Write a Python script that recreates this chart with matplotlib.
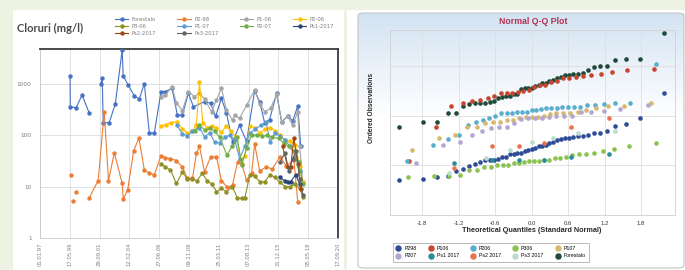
import numpy as np
import matplotlib
matplotlib.use("Agg")
import matplotlib.pyplot as plt
from matplotlib.patches import Rectangle, FancyBboxPatch
from matplotlib.lines import Line2D
from matplotlib.ticker import FuncFormatter, NullLocator
from statistics import NormalDist

nan = np.nan

# chloride time series (decimal year, mg/l)
forestalo_t = [1999.39, 1999.41, 1999.87, 2000.35, 2000.91, 2001.3, 2001.87, 2001.95, 2002.03, 2002.51,
               2002.99, 2003.54, 2003.62, 2004.02, 2004.50, 2004.90, 2005.30, 2005.70, 2006.10, 2006.63,
               2006.98, 2007.51, 2007.93, 2008.33, 2008.81, 2009.21, 2010.09, 2010.57, 2010.97, 2011.44,
               2011.84, 2012.32, 2012.88, 2013.44, 2014.08, 2014.48, 2014.88, 2015.27, 2015.83, 2016.23,
               2016.71, 2017.11, 2017.51, 2017.75]
forestalo_v = [1400, 355, 340, 600, 270, nan, 1000, 1290, 175, 175,
               400, 4500, 1400, 940, 580, 500, 1000, 110, 110, 700,
               700, 810, 245, 245, 650, 355, 445, 415, 230, 515,
               265, 74, 155, 75, 730, 445, 170, 200, 650, 180,
               235, 190, 365, 60]

p298_t = [1999.45, 1999.5, 1999.6, 1999.7, 1999.87, 2000.4, 2000.91, 2001.63, 2002.11, 2002.45,
          2002.91, 2003.54, 2003.62, 2003.98, 2004.45, 2004.87, 2005.30, 2005.70, 2006.10, 2006.63,
          2006.98, 2007.38, 2007.85, 2008.33, 2008.73, 2009.13, 2009.45, 2009.69, 2010.09, 2010.57,
          2011.04, 2011.44, 2011.92, 2012.32, 2012.72, 2013.04, 2013.44, 2013.84, 2014.08, 2014.48,
          2015.0, 2015.5, 2016.1, 2016.6, 2017.2, 2017.51]
p298_v = [17, nan, 5.2, nan, 7.8, nan, 6, 13, 285, 13,
          45, 11.6, 5.7, 8.6, 49, 88, 21, 18, 17, 40,
          36, 35, 32, 24, 14.4, 14.4, 44, 61, 19.4, 37,
          38, 13, 9.6, 10.7, 30, 28, 13.3, 18, 67, 20,
          24, 22, 38, 25, 33, 5.1]

p106_t = [2006.63, 2006.98, 2007.51, 2007.85, 2008.33, 2008.81, 2009.29, 2009.69, 2010.09, 2010.65,
          2011.04, 2011.44, 2011.84, 2012.32, 2012.48, 2012.88, 2013.44, 2014.08, 2014.48, 2014.88,
          2015.35, 2015.83, 2016.23, 2016.71, 2017.11, 2017.51, 2017.67, 2017.91]
p106_v = [560, 600, 870, 420, 300, 700, 560, 650, 500, 285,
          480, 810, 305, 195, 245, 210, 380, 750, 410, 285,
          330, 620, 180, 230, 155, 285, 60, 12]

p206_t = [2006.63, 2007.03, 2007.43, 2007.91, 2008.33, 2008.73, 2009.13, 2009.45, 2009.69, 2009.95,
          2010.29, 2010.65, 2011.04, 2011.44, 2011.84, 2012.2, 2012.6, 2013.0, 2013.3, 2013.7,
          2014.08, 2014.48, 2014.9, 2015.3, 2015.7, 2016.1, 2016.5, 2016.9, 2017.3, 2017.67, 2017.91]
p206_v = [150, 160, 175, 180, 130, 110, 120, 160, 1080, 170,
          140, 150, 135, 115, 150, 120, 90, 33, 40, 150,
          140, 110, 130, 140, 120, 100, 80, 75, 65, 25, 12]

p306_t = [2006.63, 2006.98, 2007.38, 2007.85, 2008.33, 2008.73, 2009.13, 2009.5, 2009.9, 2010.3,
          2010.7, 2011.04, 2011.44, 2011.84, 2012.3, 2012.7, 2013.04, 2013.3, 2013.7, 2014.08,
          2014.5, 2014.88, 2015.3, 2015.7, 2016.1, 2016.5, 2016.9, 2017.3, 2017.67, 2017.91]
p306_v = [28, 24, 21, 11.5, 19, 14, 14, 13, 18, 13,
          11, 8, 9.2, 7.9, 10, 6, 5.9, 6, 17, 16,
          12.4, 12.4, 17, 15, 12, 10, 10, 11, 9.2, 6.4]

p107_t = [2007.91, 2008.3, 2008.73, 2009.13, 2009.69, 2010.09, 2010.5, 2010.9, 2011.3, 2011.7,
          2012.1, 2012.5, 2012.88, 2013.3, 2013.7, 2014.1, 2014.6, 2015.0, 2015.3, 2015.7,
          2016.1, 2016.5, 2016.9, 2017.3, 2017.67]
p107_v = [155, 107, 95, 120, 140, 93, 110, 74, 70, 90,
          100, 80, 35, 60, 110, 130, 155, 180, 74, 110,
          95, 80, 60, 40, 20]

p207_t = [2009.3, 2009.69, 2010.09, 2010.5, 2010.9, 2011.3, 2011.87, 2012.3, 2012.7, 2013.04,
          2013.44, 2013.84, 2014.3, 2014.7, 2015.1, 2015.5, 2016.0, 2016.4, 2016.8, 2017.2,
          2017.6, 2017.9]
p207_v = [120, 160, 125, 135, 120, 90, 41, 60, 90, 26,
          55, 100, 100, 95, 100, 90, 87, 70, 60, 48,
          30, 11]

ps1_t = [2016.07, 2016.47, 2016.71, 2016.95, 2017.35, 2017.67]
ps1_v = [15, 13, 12.5, 12.5, 17, 11]
ps2_t = [2016.3, 2016.71, 2016.95, 2017.2, 2017.51, 2017.75]
ps2_v = [60, 24, 24, 88, 28, 9]
ps3_t = [2016.1, 2016.5, 2016.8, 2017.1, 2017.4, 2017.67, 2017.91]
ps3_v = [30, 45, 20, 35, 48, 14, 7]

# x axis labels (dates) of the time chart
x_tick_labels = ["01.01.97", "17.05.99", "29.09.01", "12.02.04", "27.06.06", "09.11.08",
                 "25.03.11", "07.08.13", "21.12.15", "05.05.18", "17.09.20"]
y_ticks = [1, 10, 100, 1000]
qq_xticks = [-1.8, -1.2, -0.6, 0.0, 0.6, 1.2, 1.8]

# (time-chart label, q-q label, t, v, line colour, q-q colour)
series = [
    ("Forestalo", "Forestalo", forestalo_t, forestalo_v, "#4472C4", "#1f4a3a"),
    ("P2-98", "P298", p298_t, p298_v, "#ED7D31", "#2f4c98"),
    ("P1-06", "P106", p106_t, p106_v, "#A5A5A5", "#c9452f"),
    ("P2-06", "P206", p206_t, p206_v, "#FFC000", "#5aaecd"),
    ("P3-06", "P306", p306_t, p306_v, "#8f8f22", "#8cc250"),
    ("P1-07", "P107", p107_t, p107_v, "#5B9BD5", "#d8b86e"),
    ("P2-07", "P207", p207_t, p207_v, "#70AD47", "#b2a6d2"),
    ("Ps1-2017", "Ps1 2017", ps1_t, ps1_v, "#264478", "#2a8b9b"),
    ("Ps2-2017", "Ps2 2017", ps2_t, ps2_v, "#9E480E", "#e8744f"),
    ("Ps3-2017", "Ps3 2017", ps3_t, ps3_v, "#636363", "#b9dccb"),
]

W, H = 685, 270
fig = plt.figure(figsize=(W / 100, H / 100), dpi=100)
fig.patch.set_facecolor("#edf2e2")


def fx(px):
    return px / W


def fy(py):
    return 1 - py / H


# white panels
fig.add_artist(Rectangle((fx(13), 0), fx(331), fy(10), transform=fig.transFigure,
                         facecolor="white", edgecolor="none", zorder=-5))
fig.add_artist(Rectangle((fx(347), 0), fx(338), fy(10), transform=fig.transFigure,
                         facecolor="white", edgecolor="none", zorder=-5))

# ---------------- left: time series ----------------
ax = fig.add_axes([fx(40), fy(238), fx(298), (238 - 49) / H])
ax.set_yscale("log")
for lab, _, t, v, col, _ in series:
    ax.plot(t, v, "-o", color=col, lw=0.8, ms=2.8, mew=0.3, mec=col, label=lab, zorder=3)

start = 1997.0
step = 2.3713
tick_pos = [start + step * i for i in range(len(x_tick_labels))]
ax.set_xlim(tick_pos[0], tick_pos[-1])
ax.set_ylim(1, 4700)
ax.set_xticks(tick_pos)
ax.set_xticklabels(x_tick_labels, rotation=90, fontsize=3.8, color="#7f7f7f")
ax.set_yticks(y_ticks)
ax.yaxis.set_major_formatter(FuncFormatter(lambda v, _: f"{v:g}"))
ax.yaxis.set_minor_locator(NullLocator())
ax.tick_params(axis="y", labelsize=4.2, colors="#7f7f7f", length=0, pad=6)
ax.tick_params(axis="x", length=0, pad=3)
ax.grid(True, color="#dcdcdc", lw=0.6)
ax.set_axisbelow(True)
for s in ["left", "bottom"]:
    ax.spines[s].set_color("#c8c8c8")
    ax.spines[s].set_linewidth(0.6)
for s in ["top", "right"]:
    ax.spines[s].set_color("#3a3a3a")
    ax.spines[s].set_linewidth(1.3)

fig.text(fx(17), fy(28), "Cloruri (mg/l)", fontsize=8, fontweight="bold", color="#4a4a4a",
         family="Lato", va="center", ha="left")

handles, labels = ax.get_legend_handles_labels()
order = [0, 4, 8, 1, 5, 9, 2, 6, 3, 7]
fig.legend([handles[i] for i in order], [labels[i] for i in order],
           loc="upper left", bbox_to_anchor=(fx(112), fy(14)), ncol=4, frameon=False,
           fontsize=3.8, handlelength=2.6, handletextpad=0.6, columnspacing=4.0,
           labelspacing=0.4, borderpad=0, labelcolor="#7f7f7f")

# ---------------- right: normal Q-Q plot ----------------
bg = fig.add_axes([fx(358), fy(268), fx(326), (268 - 13) / H], zorder=-2)
grad = np.ones((100, 2, 3))
top = np.array([0.83, 0.89, 0.95])
for i in range(100):
    f = min(i / 40.0, 1.0)
    grad[i, :, :] = top * (1 - f) + np.array([1.0, 1.0, 1.0]) * f
bg.imshow(grad, aspect="auto", extent=[0, 1, 0, 1], origin="upper")
bg.set_xlim(0, 1)
bg.set_ylim(0, 1)
bg.axis("off")
fig.add_artist(FancyBboxPatch((fx(358), fy(268)), fx(326), (268 - 13) / H,
                              boxstyle="round,pad=0,rounding_size=0.01", transform=fig.transFigure,
                              facecolor="none", edgecolor="#c4c4c4", lw=0.8, zorder=5))

qax = fig.add_axes([fx(390), fy(215), fx(285), (215 - 30) / H])
qax.set_facecolor("none")
nd = NormalDist()
qq_handles = []
for _, qlab, t, v, _, qcol in series:
    vals = np.sort(np.log10(np.array([x for x in v if not np.isnan(x)])))
    n = len(vals)
    q = [nd.inv_cdf((i + 1 - 0.375) / (n + 0.25)) for i in range(n)]
    qax.scatter(q, vals, s=11, color=qcol, linewidths=0, zorder=3)
    qq_handles.append(Line2D([], [], ls="none", marker="o", ms=3.6, color=qcol, label=qlab))

qax.set_xlim(-2.33, 2.36)
qax.set_ylim(0, 3.72)
qax.set_xticks(qq_xticks)
qax.set_xticklabels([f"{x:.1f}" for x in qq_xticks], fontsize=4.3, color="#333333",
                    family="Liberation Sans")
qax.set_yticks([1, 2, 3])
qax.set_yticklabels([])
qax.tick_params(length=0, pad=4)
qax.grid(True, color="#dedede", lw=0.6)
qax.set_axisbelow(True)
for s in qax.spines.values():
    s.set_color("#d0d0d0")
    s.set_linewidth(0.6)

fig.text(fx(533), fy(22), "Normal Q-Q Plot", fontsize=6.3, fontweight="bold", color="#b3304d",
         family="Liberation Sans", ha="center", va="center")
fig.text(fx(532), fy(230), "Theoretical Quantiles (Standard Normal)", fontsize=5.2,
         fontweight="bold", color="#2a2a2a", family="Liberation Sans", ha="center", va="center")
fig.text(fx(371), fy(108), "Ordered Observations", fontsize=4.8, fontweight="bold",
         color="#2a2a2a", family="Liberation Sans", ha="center", va="center", rotation=90)

qorder = [1, 6, 2, 7, 3, 8, 4, 9, 5, 0]
leg = fig.legend([qq_handles[i] for i in qorder], [qq_handles[i].get_label() for i in qorder],
                 loc="upper left", bbox_to_anchor=(fx(390), fy(240)), ncol=5, frameon=True,
                 fancybox=False, edgecolor="#9a9a9a", fontsize=3.8, handlelength=1.0,
                 handletextpad=0.6, columnspacing=2.2, labelspacing=0.5, borderpad=0.6,
                 prop={"family": "Liberation Sans", "size": 3.8})
leg.get_frame().set_linewidth(0.6)

fig.savefig("out.png", dpi=100, facecolor=fig.get_facecolor())
